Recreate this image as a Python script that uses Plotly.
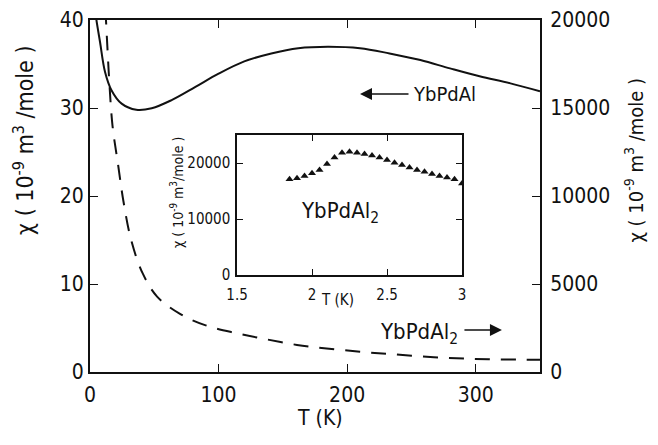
import plotly.graph_objects as go

# YbPdAl (left axis, solid)
T_al = [4.5, 5.0, 7.8, 11.7, 16.8, 24.6, 36.0, 48.0, 63.5, 82.0, 100.0, 120.0, 141.0, 162.0,
        185.0, 210.0, 233.0, 257.0, 280.0, 303.0, 327.0, 350.0]
chi_al = [40.6, 40.0, 37.5, 34.1, 32.0, 30.5, 29.8, 29.97, 30.9, 32.4, 33.9, 35.3, 36.2, 36.8,
          36.97, 36.8, 36.2, 35.45, 34.5, 33.6, 32.8, 31.9]

# YbPdAl2 (right axis, dashed)
T_al2 = [12.0, 14.0, 15.0, 17.5, 22.0, 26.0, 32.0, 41.0, 52.0, 70.0, 90.0, 114.0, 137.0, 161.0,
         184.0, 210.0, 233.0, 259.0, 285.0, 310.0, 337.0, 350.0]
chi_al2 = [20600, 17800, 16500, 14000, 11700, 9700, 7500, 5600, 4300, 3300, 2650, 2200, 1860, 1540,
           1340, 1150, 1020, 880, 780, 720, 700, 690]

# Inset: YbPdAl2 low temperature
T_in = [1.85, 1.90, 1.95, 2.00, 2.05, 2.10, 2.15, 2.20, 2.25, 2.30, 2.35, 2.40, 2.45, 2.50,
        2.55, 2.60, 2.65, 2.70, 2.75, 2.80, 2.85, 2.90, 2.95, 3.00]
chi_in = [17090, 17270, 17680, 18160, 18750, 19820, 21010, 21840, 22020, 21840, 21610, 21370,
          21010, 20540, 20060, 19640, 19230, 18750, 18450, 18040, 17680, 17440, 17090, 16370]

main_x_ticks = [0, 100, 200, 300]
main_x_labels = ["0", "100", "200", "300"]
left_y_ticks = [0, 10, 20, 30, 40]
left_y_labels = ["0", "10", "20", "30", "40"]
right_y_ticks = [0, 5000, 10000, 15000, 20000]
right_y_labels = ["0", "5000", "10000", "15000", "20000"]
inset_x_ticks = [1.5, 2, 2.5, 3]
inset_x_labels = ["1.5", "2", "2.5", "3"]
inset_y_ticks = [0, 10000, 20000]
inset_y_labels = ["0", "10000", "20000"]

FONT = "DejaVu Sans Condensed, DejaVu Sans, sans-serif"
BLACK = "#111111"

fig = go.Figure()
fig.add_trace(go.Scatter(x=T_al, y=chi_al, mode="lines", line=dict(color=BLACK, width=2, shape="spline"),
                         xaxis="x", yaxis="y", showlegend=False))
fig.add_trace(go.Scatter(x=T_al2, y=chi_al2, mode="lines",
                         line=dict(color=BLACK, width=2, dash="15px,11px", shape="spline"),
                         xaxis="x", yaxis="y2", showlegend=False))
fig.add_trace(go.Scatter(x=T_in, y=chi_in, mode="markers",
                         marker=dict(symbol="triangle-up", size=7, color=BLACK),
                         xaxis="x3", yaxis="y3", showlegend=False))

ax_common = dict(showgrid=False, zeroline=False, showline=True, linecolor=BLACK,
                 ticks="inside", tickcolor=BLACK, automargin=False)

fig.update_layout(
    width=658, height=445,
    margin=dict(l=90, r=118, t=20, b=73, autoexpand=False),
    paper_bgcolor="white", plot_bgcolor="white",
    font=dict(family=FONT, color=BLACK, size=21),
    xaxis=dict(**ax_common, range=[0, 350], tickvals=main_x_ticks, ticktext=main_x_labels,
               linewidth=2, ticklen=8, mirror="ticks", tickwidth=1, domain=[0, 1],
               ticklabelstandoff=3),
    yaxis=dict(**ax_common, range=[0, 40], tickvals=left_y_ticks, ticktext=left_y_labels,
               linewidth=2, ticklen=8, mirror=True, tickwidth=1),
    yaxis2=dict(**ax_common, range=[0, 20000], tickvals=right_y_ticks, ticktext=right_y_labels,
                overlaying="y", side="right", linewidth=2, ticklen=8, tickwidth=1, anchor="x",
                ticklabelstandoff=4),
    xaxis3=dict(**ax_common, range=[1.5, 3], tickvals=inset_x_ticks, ticktext=inset_x_labels,
                domain=[0.3267, 0.8267], anchor="y3", linewidth=1.5, ticklen=6, mirror="ticks",
                tickfont=dict(size=15), ticklabelstandoff=5),
    yaxis3=dict(**ax_common, range=[0, 25000], tickvals=inset_y_ticks, ticktext=inset_y_labels,
                domain=[0.2756, 0.673], anchor="x3", linewidth=1.5, ticklen=6, mirror="ticks",
                tickfont=dict(size=15), ticklabelstandoff=2),
)

ann = []
ann.append(dict(text="χ ( 10<sup>-9</sup> m<sup>3</sup> /mole )", xref="paper", yref="paper",
                x=-0.147, y=0.659, textangle=-90, showarrow=False, font=dict(size=23),
                xanchor="center", yanchor="middle"))
ann.append(dict(text="χ ( 10<sup>-9</sup> m<sup>3</sup> /mole )", xref="paper", yref="paper",
                x=1.21, y=0.602, textangle=-90, showarrow=False, font=dict(size=20),
                xanchor="center", yanchor="middle"))
ann.append(dict(text="χ ( 10<sup>-9</sup> m<sup>3</sup>/mole )", xref="paper", yref="paper",
                x=0.193, y=0.511, textangle=-90, showarrow=False, font=dict(size=14),
                xanchor="center", yanchor="middle"))
ann.append(dict(text="T (K)", xref="paper", yref="paper", x=0.511, y=-0.131, showarrow=False,
                font=dict(size=21), xanchor="center", yanchor="middle"))
ann.append(dict(text="T (K)", xref="paper", yref="paper", x=0.551, y=0.2045, showarrow=False,
                font=dict(size=15), xanchor="center", yanchor="middle"))
ann.append(dict(text="YbPdAl<sub>2</sub>", xref="paper", yref="paper", x=0.556, y=0.4545,
                showarrow=False, font=dict(size=22), xanchor="center", yanchor="middle"))
ann.append(dict(text="YbPdAl", xref="paper", yref="paper", x=0.787, y=0.79,
                showarrow=False, font=dict(size=20), xanchor="center", yanchor="middle"))
ann.append(dict(text="YbPdAl<sub>2</sub>", xref="paper", yref="paper", x=0.731, y=0.108,
                showarrow=False, font=dict(size=22), xanchor="center", yanchor="middle"))
# arrows
ann.append(dict(text="", x=210, y=31.6, xref="x", yref="y", ax=50, ay=0, showarrow=True,
                arrowhead=2, arrowsize=1.6, arrowwidth=1.5, arrowcolor=BLACK))
ann.append(dict(text="", x=320.4, y=4.77, xref="x", yref="y", ax=-39, ay=0, showarrow=True,
                arrowhead=2, arrowsize=1.6, arrowwidth=1.5, arrowcolor=BLACK))
fig.update_layout(annotations=ann)

fig.write_html("out.html", config={"displayModeBar": False},
               post_script="document.body.style.margin='0';document.body.style.overflow='hidden';")
